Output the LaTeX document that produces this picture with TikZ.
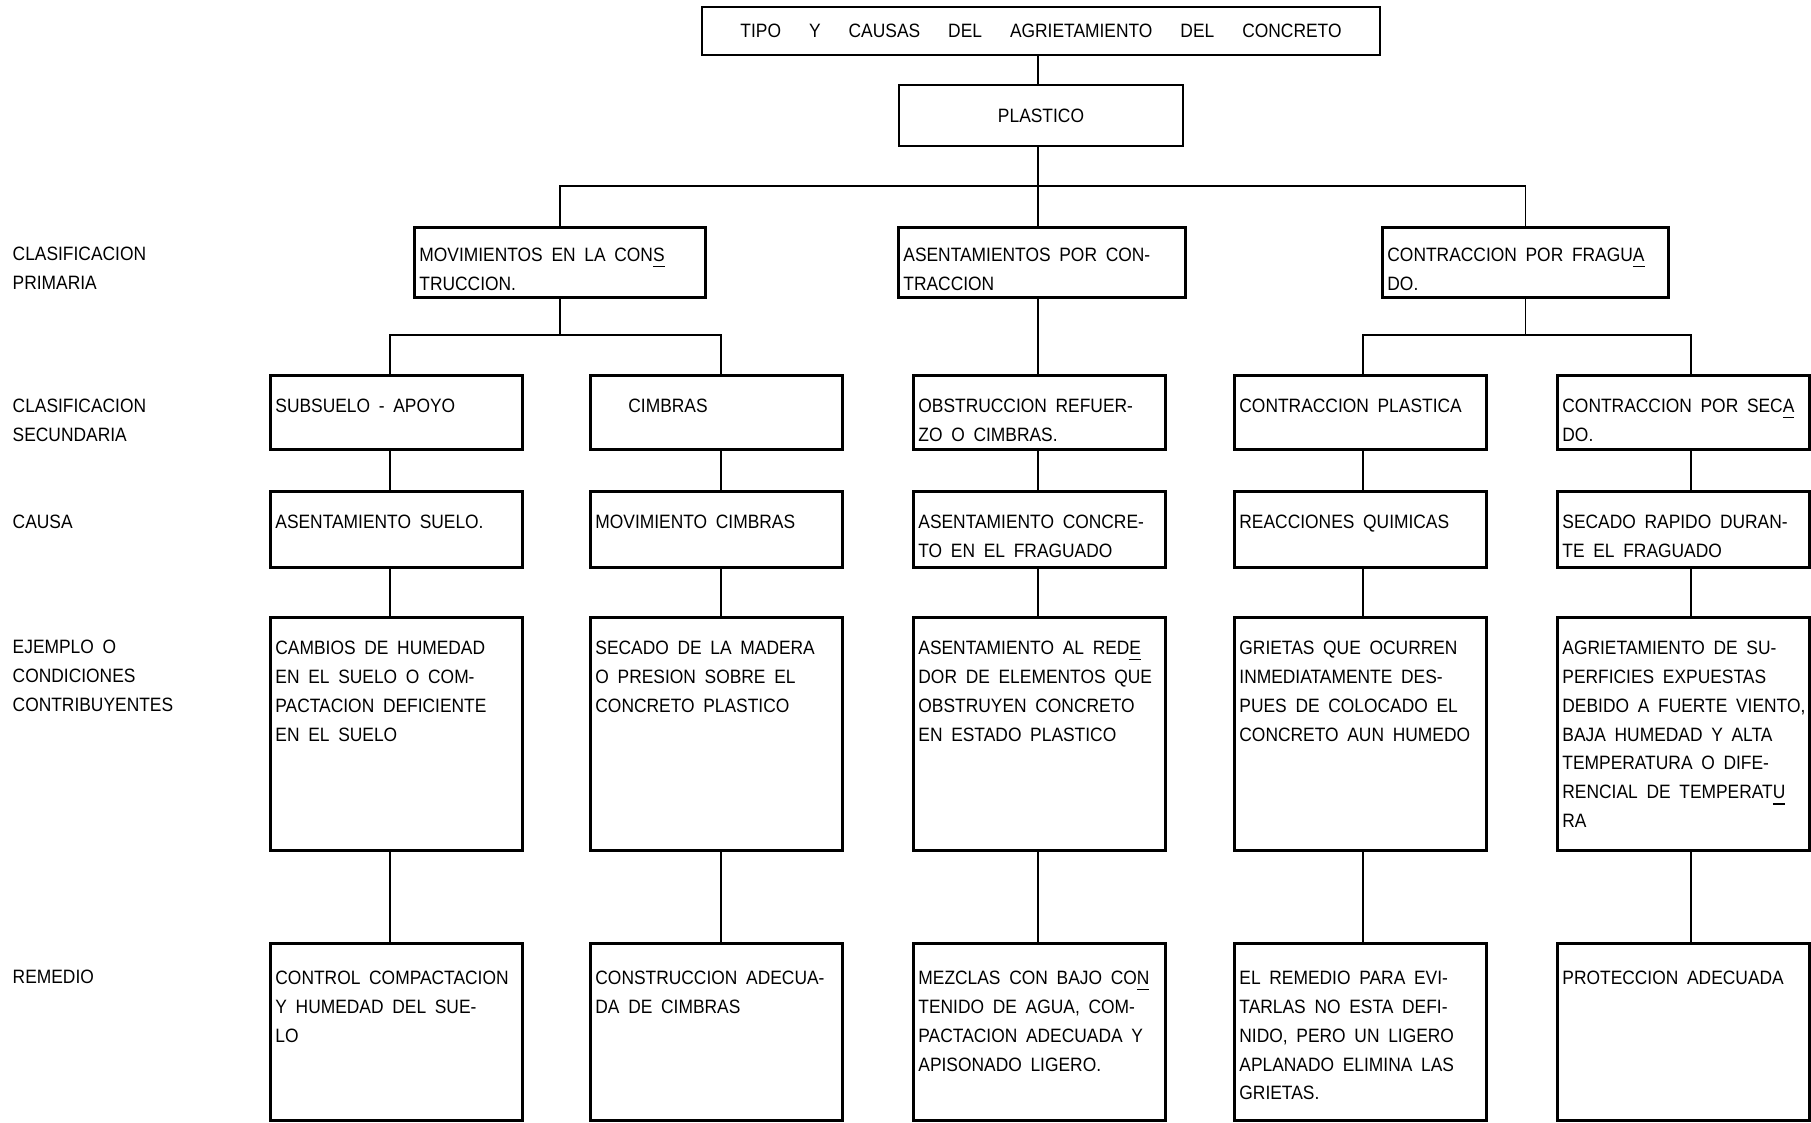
\documentclass[tikz,border=0pt]{standalone}
\usepackage{fontspec}
\setmainfont{Liberation Sans}[FakeStretch=0.9,WordSpace=1.8]

\newcommand{\cellfont}{\fontsize{5.5}{8.2}\selectfont}
\newcommand{\colw}{24.2mm}
% texto alineado arriba dentro de cada caja
\newcommand{\boxtxt}[3]{\parbox[t][#2][t]{#1}{\cellfont\begin{tabular}[t]{@{}l@{}}#3\end{tabular}}}

\begin{document}
\begin{tikzpicture}[
    cell/.style={draw, line width=0.8pt, anchor=north west, inner xsep=0.5mm, inner ysep=1.7mm},
    headbox/.style={draw, line width=0.8pt, inner sep=0pt, font=\cellfont},
    rowlabel/.style={anchor=north west, inner sep=0pt, font=\cellfont},
    link/.style={draw, line width=0.5pt}
]
    \useasboundingbox (0,0) rectangle (18.11,-11.22);

    % Titulo y tipo
    \node[headbox, minimum width=6.78cm, minimum height=0.48cm] (title) at (10.41,-0.31)
        {\spaceskip=2.8mm\relax TIPO Y CAUSAS DEL AGRIETAMIENTO DEL CONCRETO};
    \node[headbox, minimum width=2.84cm, minimum height=0.61cm] (plastico) at (10.41,-1.155) {PLASTICO};

    % Etiquetas de las filas
    \node[rowlabel] (lprim) at (0.12,-2.40) {\begin{tabular}[t]{@{}l@{}}CLASIFICACION\\PRIMARIA\end{tabular}};
    \node[rowlabel] (lsec) at (0.12,-3.92) {\begin{tabular}[t]{@{}l@{}}CLASIFICACION\\SECUNDARIA\end{tabular}};
    \node[rowlabel] (lcau) at (0.12,-5.08) {\begin{tabular}[t]{@{}l@{}}CAUSA\end{tabular}};
    \node[rowlabel] (lej) at (0.12,-6.33) {\begin{tabular}[t]{@{}l@{}}EJEMPLO O\\CONDICIONES\\CONTRIBUYENTES\end{tabular}};
    \node[rowlabel] (lrem) at (0.12,-9.63) {\begin{tabular}[t]{@{}l@{}}REMEDIO\end{tabular}};

    % Clasificacion primaria
    \node[cell, inner ysep=1.4mm] (prim1) at (4.13,-2.26) {\boxtxt{28.1mm}{4.2mm}{MOVIMIENTOS EN LA CON\underline{S}\\TRUCCION.}};
    \node[cell, inner ysep=1.4mm] (prim2) at (8.97,-2.26) {\boxtxt{27.7mm}{4.2mm}{ASENTAMIENTOS POR CON-\\TRACCION}};
    \node[cell, inner ysep=1.4mm] (prim3) at (13.81,-2.26) {\boxtxt{27.6mm}{4.2mm}{CONTRACCION POR FRAGU\underline{A}\\DO.}};

    % Clasificacion secundaria
    \node[cell] (sec1) at (2.69,-3.74) {\boxtxt{\colw}{4.0mm}{SUBSUELO - APOYO}};
    \node[cell] (sec2) at (5.89,-3.74) {\boxtxt{\colw}{4.0mm}{\hspace*{3.3mm}CIMBRAS}};
    \node[cell] (sec3) at (9.12,-3.74) {\boxtxt{\colw}{4.0mm}{OBSTRUCCION REFUER-\\ZO O CIMBRAS.}};
    \node[cell] (sec4) at (12.33,-3.74) {\boxtxt{\colw}{4.0mm}{CONTRACCION PLASTICA}};
    \node[cell] (sec5) at (15.56,-3.74) {\boxtxt{\colw}{4.0mm}{CONTRACCION POR SEC\underline{A}\\DO.}};

    % Causa
    \node[cell] (cau1) at (2.69,-4.90) {\boxtxt{\colw}{4.2mm}{ASENTAMIENTO SUELO.}};
    \node[cell] (cau2) at (5.89,-4.90) {\boxtxt{\colw}{4.2mm}{MOVIMIENTO CIMBRAS}};
    \node[cell] (cau3) at (9.12,-4.90) {\boxtxt{\colw}{4.2mm}{ASENTAMIENTO CONCRE-\\TO EN EL FRAGUADO}};
    \node[cell] (cau4) at (12.33,-4.90) {\boxtxt{\colw}{4.2mm}{REACCIONES QUIMICAS}};
    \node[cell] (cau5) at (15.56,-4.90) {\boxtxt{\colw}{4.2mm}{SECADO RAPIDO DURAN-\\TE EL FRAGUADO}};

    % Ejemplo o condiciones contribuyentes
    \node[cell] (ej1) at (2.69,-6.16) {\boxtxt{\colw}{19.9mm}{CAMBIOS DE HUMEDAD\\EN EL SUELO O COM-\\PACTACION DEFICIENTE\\EN EL SUELO}};
    \node[cell] (ej2) at (5.89,-6.16) {\boxtxt{\colw}{19.9mm}{SECADO DE LA MADERA\\O PRESION SOBRE EL\\CONCRETO PLASTICO}};
    \node[cell] (ej3) at (9.12,-6.16) {\boxtxt{\colw}{19.9mm}{ASENTAMIENTO AL RED\underline{E}\\DOR DE ELEMENTOS QUE\\OBSTRUYEN CONCRETO\\EN ESTADO PLASTICO}};
    \node[cell] (ej4) at (12.33,-6.16) {\boxtxt{\colw}{19.9mm}{GRIETAS QUE OCURREN\\INMEDIATAMENTE DES-\\PUES DE COLOCADO EL\\CONCRETO AUN HUMEDO}};
    \node[cell] (ej5) at (15.56,-6.16) {\boxtxt{\colw}{19.9mm}{AGRIETAMIENTO DE SU-\\PERFICIES EXPUESTAS\\DEBIDO A FUERTE VIENTO,\\BAJA HUMEDAD Y ALTA\\TEMPERATURA O DIFE-\\RENCIAL DE TEMPERAT\underline{U}\\RA}};

    % Remedio
    \node[cell, inner ysep=2.1mm] (rem1) at (2.69,-9.42) {\boxtxt{\colw}{13.5mm}{CONTROL COMPACTACION\\Y HUMEDAD DEL SUE-\\LO}};
    \node[cell, inner ysep=2.1mm] (rem2) at (5.89,-9.42) {\boxtxt{\colw}{13.5mm}{CONSTRUCCION ADECUA-\\DA DE CIMBRAS}};
    \node[cell, inner ysep=2.1mm] (rem3) at (9.12,-9.42) {\boxtxt{\colw}{13.5mm}{MEZCLAS CON BAJO CO\underline{N}\\TENIDO DE AGUA, COM-\\PACTACION ADECUADA Y\\APISONADO LIGERO.}};
    \node[cell, inner ysep=2.1mm] (rem4) at (12.33,-9.42) {\boxtxt{\colw}{13.5mm}{EL REMEDIO PARA EVI-\\TARLAS NO ESTA DEFI-\\NIDO, PERO UN LIGERO\\APLANADO ELIMINA LAS\\GRIETAS.}};
    \node[cell, inner ysep=2.1mm] (rem5) at (15.56,-9.42) {\boxtxt{\colw}{13.5mm}{PROTECCION ADECUADA}};

    % Lineas de union
    \coordinate (bar1) at (10.38,-1.86);
    \coordinate (bar2) at (5.58,-3.35);
    \coordinate (bar3) at (15.22,-3.35);
    \coordinate (k1) at (3.90,0);
    \coordinate (k2) at (7.21,0);
    \coordinate (k3) at (10.38,0);
    \coordinate (k4) at (13.63,0);
    \coordinate (k5) at (16.91,0);

    \draw[link] (title.south -| k3) -- (plastico.north -| k3);
    \draw[link] (plastico.south -| k3) -- (prim2.north -| k3);
    \draw[link] (prim1.north) |- (bar1) -| (prim3.north);
    \draw[link] (prim1.south) -- (prim1.south |- bar2);
    \draw[link] (sec1.north -| k1) |- (bar2) -| (sec2.north -| k2);
    \draw[link] (prim3.south) -- (prim3.south |- bar3);
    \draw[link] (sec4.north -| k4) |- (bar3) -| (sec5.north -| k5);
    \draw[link] (prim2.south -| k3) -- (sec3.north -| k3);
    \foreach \c/\w in {1/0.5,2/0.5,3/0.5,4/0.75,5/0.75} {
        \draw[link] (sec\c.south -| k\c) -- (cau\c.north -| k\c);
        \draw[link, line width=\w pt] (cau\c.south -| k\c) -- (ej\c.north -| k\c);
        \draw[link, line width=\w pt] (ej\c.south -| k\c) -- (rem\c.north -| k\c);
    }

\end{tikzpicture}
\end{document}
